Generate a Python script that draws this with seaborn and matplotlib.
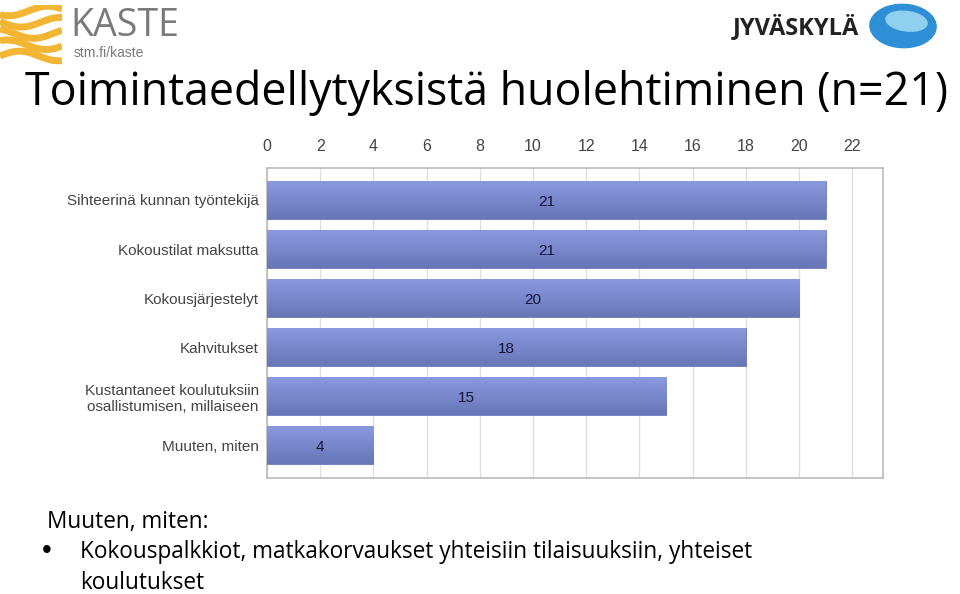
import matplotlib
matplotlib.use("Agg")
import matplotlib.pyplot as plt
import seaborn as sns
import numpy as np
import pandas as pd
from matplotlib.patches import Ellipse
from matplotlib.colors import LinearSegmentedColormap

categories = ["Sihteerinä kunnan työntekijä", "Kokoustilat maksutta", "Kokousjärjestelyt",
              "Kahvitukset", "Kustantaneet koulutuksiin\nosallistumisen, millaiseen", "Muuten, miten"]
values = [21, 21, 20, 18, 15, 4]
xticks = list(range(0, 23, 2))

title = "Toimintaedellytyksistä huolehtiminen (n=21)"
note_head = "Muuten, miten:"
note_line1 = "Kokouspalkkiot, matkakorvaukset yhteisiin tilaisuuksiin, yhteiset"
note_line2 = "koulutukset"

sns.set_theme(style="white")
plt.rcParams['font.family'] = ['Liberation Sans', 'DejaVu Sans']

df = pd.DataFrame({"cat": categories, "val": values})

fig = plt.figure(figsize=(9.6, 5.94), dpi=100)
ax = fig.add_axes([267/960, 1-478/594, (883-267)/960, (478-168)/594])

sns.barplot(data=df, x="val", y="cat", ax=ax, color="#7888cc", width=0.78,
            saturation=1, edgecolor="#6a78b8", linewidth=0.6, zorder=3)

ax.set_xlim(0, (883-267)/26.6)
ax.set_ylim(5.673, -0.653)

# vertical gradient fill on each bar (lighter at top, darker at bottom)
cmap = LinearSegmentedColormap.from_list("g", ["#6676b6", "#8b9ae0"])
grad = np.linspace(0, 1, 64).reshape(-1, 1)
for p in list(ax.patches):
    x0, y0, w, h = p.get_x(), p.get_y(), p.get_width(), p.get_height()
    im = ax.imshow(grad, cmap=cmap, extent=(x0, x0+w, y0, y0+h), origin="upper",
                   aspect="auto", zorder=3.5, interpolation="bilinear")
    im.set_clip_path(p)
ax.set_xlim(0, (883-267)/26.6)
ax.set_ylim(5.673, -0.653)

ax.set_xticks(xticks)
ax.xaxis.tick_top()
ax.tick_params(axis="x", labelsize=11.5, colors="#444444", length=0, pad=10)
ax.tick_params(axis="y", labelsize=11, colors="#444444", length=0, pad=6)
ax.set_xlabel("")
ax.set_ylabel("")
ax.grid(axis="x", color="#dddddd", linewidth=0.9, zorder=0)
for s in ax.spines.values():
    s.set_color("#bbbbbb")
    s.set_linewidth(1.2)

for p, v in zip(ax.patches, values):
    ax.text(v/2, p.get_y()+p.get_height()/2 + 0.04, str(v), ha="center", va="center",
            fontsize=11, color="#15153a", zorder=5)

ff = ["Open Sans", "DejaVu Sans"]
fig.text(25/960, 1-93/594, title, fontsize=32.2, color="black", va="center", ha="left", family=ff)
fig.text(47/960, 1-522/594, note_head, fontsize=16.3, color="black", va="center", ha="left", family=ff)
fig.text(42/960, 1-551/594, "•", fontsize=20, color="black", va="center", ha="left")
fig.text(80/960, 1-552/594, note_line1, fontsize=16.3, color="black", va="center", ha="left", family=ff)
fig.text(80/960, 1-583/594, note_line2, fontsize=16.3, color="black", va="center", ha="left", family=ff)

# logos
fig.text(70/960, 1-36/594, "KASTE", fontsize=27, color="#7a7a7a", va="baseline", ha="left", family=ff)
fig.text(74/960, 1-53/594, "stm.fi/kaste", fontsize=10, color="#7a7a7a", va="center", ha="left")
lax = fig.add_axes([0, 1-65/594, 62/960, 60/594])
lax.set_xlim(0, 1); lax.set_ylim(0, 1); lax.axis("off")
xx = np.linspace(0, 1, 50)
for i, off in enumerate(np.linspace(0.15, 0.9, 5)):
    lax.plot(xx, off + 0.08*np.sin(xx*5 + i), color="#f2b632", lw=5, solid_capstyle="butt")
fig.text(733/960, 1-27/594, "JYVÄSKYLÄ", fontsize=17, color="#222222", va="center", ha="left",
         family=ff, fontweight="bold")
bax = fig.add_axes([868/960, 1-50/594, 70/960, 48/594])
bax.set_xlim(0, 1); bax.set_ylim(0, 1); bax.axis("off")
bax.add_patch(Ellipse((0.5, 0.5), 0.95, 0.9, angle=-15, color="#2f8fd6"))
bax.add_patch(Ellipse((0.55, 0.6), 0.6, 0.4, angle=-15, color="#8fd0f0"))

fig.savefig("out.png", dpi=100)
